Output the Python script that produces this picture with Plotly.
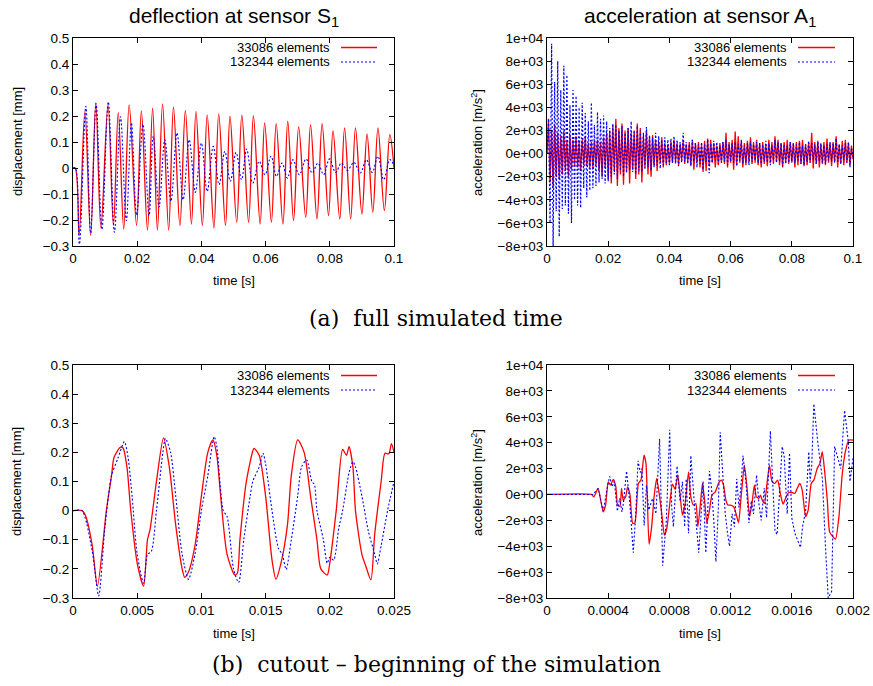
import plotly.graph_objects as go

W, H = 873, 686
def px(x): return x / W
def py(y): return 1 - y / H

# ---------------- data ----------------
series_names = ["33086 elements", "132344 elements"]

# (a) displacement at S1, full time [s], [mm]
disp_full_t_red = [0, 0.0007, 0.0019, 0.0037, 0.0055, 0.0071, 0.0087, 0.0109, 0.0126, 0.0141,
                   0.0158, 0.0175, 0.0198, 0.0213, 0.0232, 0.0248, 0.0263, 0.0279, 0.0298, 0.0313,
                   0.0333, 0.035, 0.0369, 0.0383, 0.0403, 0.0418, 0.0439, 0.0454, 0.0475, 0.0489,
                   0.051, 0.0526, 0.0547, 0.0562, 0.0583, 0.0597, 0.0618, 0.0633, 0.0654, 0.0669,
                   0.0687, 0.0703, 0.0725, 0.074, 0.076, 0.0776, 0.0796, 0.081, 0.0831, 0.0846,
                   0.0865, 0.088, 0.09, 0.0916, 0.0934, 0.095, 0.097, 0.0987, 0.1]
disp_full_y_red = [0, 0, -0.26, 0.218, -0.259, 0.25, -0.229, 0.243, -0.221, 0.214,
                   -0.235, 0.243, -0.221, 0.22, -0.238, 0.23, -0.239, 0.246, -0.239, 0.235,
                   -0.222, 0.222, -0.216, 0.218, -0.222, 0.204, -0.231, 0.208, -0.222, 0.199,
                   -0.209, 0.203, -0.209, 0.201, -0.216, 0.173, -0.209, 0.171, -0.216, 0.18,
                   -0.202, 0.158, -0.19, 0.167, -0.196, 0.171, -0.183, 0.144, -0.196, 0.154,
                   -0.196, 0.154, -0.177, 0.131, -0.17, 0.154, -0.164, 0.128, 0.0]

disp_full_t_blue = [0, 0.0007, 0.002, 0.004, 0.0055, 0.0072, 0.009, 0.011, 0.0129, 0.0148,
                    0.0166, 0.0182, 0.0198, 0.0218, 0.0237, 0.025, 0.0268, 0.0286, 0.0305, 0.0324,
                    0.0343, 0.0362, 0.0381, 0.04, 0.0418, 0.0437, 0.0455, 0.0473, 0.049, 0.0508,
                    0.0525, 0.0541, 0.056, 0.058, 0.0598, 0.0617, 0.0634, 0.0651, 0.0668, 0.0685,
                    0.0705, 0.0726, 0.0745, 0.0763, 0.0781, 0.0799, 0.0818, 0.0836, 0.0855, 0.0875,
                    0.0895, 0.0914, 0.0932, 0.095, 0.0968, 0.0987, 0.1]
disp_full_y_blue = [0, 0, -0.293, 0.237, -0.25, 0.248, -0.236, 0.254, -0.247, 0.197,
                    -0.202, 0.174, -0.181, 0.168, -0.183, 0.122, -0.15, 0.109, -0.128, 0.135,
                    -0.122, 0.109, -0.094, 0.096, -0.09, 0.083, -0.064, 0.064, -0.051, 0.06,
                    -0.045, 0.073, -0.058, 0.026, -0.026, 0.045, -0.032, 0.019, -0.039, 0.032,
                    -0.026, 0.035, -0.019, 0.019, -0.026, 0.035, -0.017, 0.019, -0.009, 0.022,
                    -0.019, 0.032, -0.017, 0.045, -0.045, 0.032, 0.01]

# (a) acceleration at A1, full time, sampled every 0.5 ms, values in 100 m/s^2
acc_full_t = [i * 0.0005 for i in range(201)]
acc_full_red_h = [
    0, 30, -25, 20, -30, 25, -20, 18, -22, 15, -18, 20, -15, 12, -20, 16, -14, 12, -10, 15,
    -12, 10, -15, 12, -10, 14, -11, 9, -12, 10, -13, 11, -10, 12, -15, 10, -20, 14, -12, 18,
    -22, 20, -26, 25, -15, 30, -28, 22, -18, 26, -27, 20, -15, 22, -26, 18, -14, 20, -22, 26,
    -18, 22, -25, 15, -12, 20, -18, 14, -20, 16, -10, 12, -15, 10, -8, 14, -12, 9, -10, 8,
    -9, 10, -8, 12, -7, 9, -10, 8, -6, 11, -9, 8, -7, 10, -11, 12, -14, 9, -8, 10,
    -12, 8, -16, 11, -15, 13, -10, 12, -8, 9, -12, 7, -10, 9, -8, 10, -9, 18, -12, 10,
    -8, 12, -14, 19, -10, 15, -8, 10, -12, 9, -10, 11, -7, 14, -9, 10, -8, 12, -10, 9,
    -12, 10, -9, 8, -11, 12, -8, 10, -9, 15, -7, 12, -10, 9, -12, 10, -8, 12, -9, 10,
    -8, 9, -12, 10, -10, 11, -9, 12, -11, 8, -10, 9, -8, 18, -13, 10, -9, 11, -12, 8,
    -9, 10, -10, 13, -8, 9, -11, 10, -7, 15, -12, 8, -9, 11, -10, 12, -8, 9, -10, 7,
    -5]
acc_full_blue_h = [
    0, 30, -60, 95, -80, 62, -50, 80, -72, 55, -48, 76, -45, 68, -52, 42, -60, 55, -40, 50,
    -45, 40, -47, 44, -30, 35, -38, 28, -32, 44, -30, 25, -28, 36, -25, 30, -22, 33, -26, 28,
    -24, 22, -20, 26, -18, 25, -22, 20, -15, 24, -20, 18, -17, 22, -14, 28, -16, 20, -18, 24,
    -15, 20, -16, 18, -14, 23, -12, 16, -15, 14, -12, 18, -10, 15, -13, 12, -10, 14, -9, 12,
    -10, 13, -8, 15, -9, 12, -11, 10, -8, 18, -7, 10, -9, 8, -10, 12, -7, 9, -12, 8,
    -9, 10, -14, 8, -7, 12, -17, 9, -8, 11, -6, 10, -9, 7, -8, 10, -7, 12, -10, 8,
    -7, 9, -8, 10, -11, 8, -6, 12, -9, 7, -8, 9, -10, 11, -7, 8, -6, 10, -8, 9,
    -9, 8, -7, 11, -8, 9, -10, 7, -6, 12, -8, 10, -7, 9, -11, 8, -9, 7, -8, 10,
    -7, 9, -8, 8, -6, 10, -9, 7, -10, 8, -7, 11, -8, 9, -6, 8, -9, 10, -7, 9,
    -8, 7, -9, 8, -6, 10, -7, 9, -8, 13, -7, 8, -9, 7, -6, 9, -8, 10, -12, 5,
    -3]

# (b) displacement, cutout 0..0.025 s
disp_cut_t_red = [0, 0.0007, 0.001, 0.0015, 0.0019, 0.0026, 0.003, 0.0032, 0.0037, 0.0039,
                  0.0042, 0.0045, 0.005, 0.0055, 0.0058, 0.006, 0.0065, 0.00705, 0.0075, 0.008,
                  0.0085, 0.0087, 0.009, 0.0095, 0.01, 0.0105, 0.0109, 0.0112, 0.0115, 0.012,
                  0.0126, 0.0128, 0.013, 0.0135, 0.014, 0.0141, 0.0145, 0.015, 0.0155, 0.0158,
                  0.0162, 0.0167, 0.017, 0.0175, 0.018, 0.0185, 0.019, 0.0193, 0.0198, 0.02,
                  0.0205, 0.021, 0.0213, 0.0215, 0.0218, 0.022, 0.0225, 0.0228, 0.0232, 0.0235,
                  0.024, 0.0243, 0.0246, 0.0248, 0.025]
disp_cut_y_red = [0, 0, -0.02, -0.12, -0.26, 0.0, 0.12, 0.183, 0.218, 0.215,
                  0.15, 0.0, -0.18, -0.259, -0.1, -0.065, 0.1, 0.25, 0.15, -0.05,
                  -0.2, -0.229, -0.21, -0.12, 0.05, 0.2, 0.243, 0.19, 0.05, -0.15,
                  -0.221, -0.215, -0.1, 0.1, 0.205, 0.214, 0.19, 0.05, -0.17, -0.235,
                  -0.18, -0.05, 0.12, 0.243, 0.2, 0.05, -0.1, -0.2, -0.221, -0.18,
                  0.0, 0.21, 0.19, 0.22, 0.15, 0.0, -0.15, -0.19, -0.238, -0.08,
                  0.1, 0.197, 0.195, 0.23, 0.2]
disp_cut_t_blue = [0, 0.0007, 0.0015, 0.002, 0.0025, 0.003, 0.0035, 0.004, 0.0043, 0.0046,
                   0.005, 0.0055, 0.0058, 0.0061, 0.0065, 0.007, 0.0072, 0.0076, 0.008, 0.0085,
                   0.009, 0.0095, 0.01, 0.0105, 0.011, 0.0112, 0.0117, 0.012, 0.0125, 0.0129,
                   0.0133, 0.0138, 0.014, 0.0145, 0.0148, 0.015, 0.0155, 0.016, 0.0163, 0.0166,
                   0.017, 0.0175, 0.0178, 0.0182, 0.0186, 0.0188, 0.019, 0.0195, 0.0198, 0.02,
                   0.0203, 0.0207, 0.021, 0.0215, 0.0218, 0.022, 0.0225, 0.023, 0.0235, 0.0237,
                   0.024, 0.0245, 0.025]
disp_cut_y_blue = [0, 0, -0.14, -0.293, -0.05, 0.12, 0.18, 0.237, 0.18, 0.05,
                   -0.15, -0.25, -0.15, -0.14, 0.0, 0.2, 0.248, 0.2, 0.05, -0.15,
                   -0.236, -0.15, 0.0, 0.12, 0.254, 0.22, 0.0, -0.02, -0.2, -0.247,
                   -0.1, 0.05, 0.1, 0.15, 0.197, 0.16, 0.0, -0.13, -0.15, -0.202,
                   -0.1, 0.05, 0.15, 0.174, 0.1, 0.09, 0.0, -0.1, -0.181, -0.16,
                   -0.17, -0.06, 0.0, 0.13, 0.168, 0.15, 0.05, -0.07, -0.15, -0.183,
                   -0.12, 0.0, 0.1]

# (b) acceleration, cutout 0..0.002 s [m/s^2]
acc_cut_t_red = [0, 0.000291, 0.000306, 0.000334, 0.000367, 0.000383, 0.0004, 0.000415, 0.000433, 0.00045,
                 0.000461, 0.000477, 0.000487, 0.000498, 0.000514, 0.000527, 0.000542, 0.00056, 0.000575, 0.000597,
                 0.000614, 0.000634, 0.000647, 0.000667, 0.000684, 0.0007, 0.000717, 0.000734, 0.00075, 0.000767,
                 0.000783, 0.0008, 0.00082, 0.000837, 0.000855, 0.00087, 0.000885, 0.000903, 0.000925, 0.00094,
                 0.000957, 0.000973, 0.000986, 0.001001, 0.001016, 0.00103, 0.001045, 0.001062, 0.001078, 0.0011,
                 0.001121, 0.001139, 0.001154, 0.001169, 0.001182, 0.001198, 0.00122, 0.001235, 0.001252, 0.00127,
                 0.00129, 0.001307, 0.001324, 0.00134, 0.001355, 0.001368, 0.001384, 0.001395, 0.001405, 0.001421,
                 0.001438, 0.001454, 0.001471, 0.001489, 0.001508, 0.001526, 0.001543, 0.001563, 0.00158, 0.001602,
                 0.00162, 0.001635, 0.001652, 0.001668, 0.00169, 0.001707, 0.001727, 0.001744, 0.001766, 0.001784,
                 0.001799, 0.001814, 0.001832, 0.001847, 0.001869, 0.001886, 0.001908, 0.00193, 0.001952, 0.001974,
                 0.002]
acc_cut_y_red = [0, 0, -180, 460, -1340, -820, 980, 720, 1160, 590,
                 -820, -900, 460, -440, -180, 590, 0, -2240, -2190, 850,
                 1110, 3040, 2400, -3840, -2500, -180, 1240, 0, -1470, -3140,
                 -2630, -950, 800, 390, 1500, -50, -1600, -700, 1750, -180,
                 -820, -700, -2500, -950, 850, -440, -2240, -1210, -50, 200,
                 850, 1110, 720, -440, -820, -820, -950, -1470, -2190, 0,
                 2270, 590, -1680, -700, 720, -180, -310, -50, -390, -700,
                 850, 2270, 980, 850, 1110, 0, -750, -180, 150, 150,
                 80, 460, 850, 330, -1730, -1210, 850, 1110, 2010, 2400,
                 3300, 1880, -440, -2890, -3270, -3460, -1730, 1620, 3430, 4200,
                 4200]
acc_cut_t_blue = [0, 0.0003, 0.000335, 0.000367, 0.0004, 0.00041, 0.000425, 0.00044, 0.00046, 0.000475,
                  0.00049, 0.0005, 0.00052, 0.00054, 0.000564, 0.00058, 0.000595, 0.00061, 0.00062, 0.000635,
                  0.00065, 0.000665, 0.00069, 0.000712, 0.000736, 0.000756, 0.00078, 0.000802, 0.000815, 0.000826,
                  0.00085, 0.00087, 0.000885, 0.0009, 0.00091, 0.000925, 0.00094, 0.00096, 0.000992, 0.001005,
                  0.00102, 0.001038, 0.00105, 0.001062, 0.001075, 0.00109, 0.001104, 0.00112, 0.001132, 0.00115,
                  0.001165, 0.00118, 0.001193, 0.00121, 0.001225, 0.00124, 0.001255, 0.00127, 0.001281, 0.0013,
                  0.00132, 0.001335, 0.00135, 0.00137, 0.001385, 0.0014, 0.00142, 0.001435, 0.00145, 0.00146,
                  0.001475, 0.00149, 0.001504, 0.00152, 0.001537, 0.00155, 0.00157, 0.001585, 0.0016, 0.00162,
                  0.001657, 0.00167, 0.00169, 0.001711, 0.00172, 0.00173, 0.001744, 0.00177, 0.00179, 0.0018,
                  0.00182, 0.001838, 0.00186, 0.001868, 0.00188, 0.00192, 0.001945, 0.00197, 0.00198, 0.002]
acc_cut_y_blue = [0, 0, 460, -1300, 900, 1400, 600, 1000, -1300, -300,
                  -1350, -600, 1800, -500, -4500, -1500, 2600, 1700, 2000, -2400,
                  700, -1200, -300, -1500, 4300, -5500, -2000, 5000, -1000, -2500,
                  2200, -500, 1000, -2500, 1200, -3000, 3000, -200, -4500, -2000,
                  1000, -4500, -1000, 1800, 500, -2000, -5200, -1000, 4800, 1000,
                  -1500, -3000, -4000, -1500, -2500, 1200, -1000, 1000, 3000, 1000,
                  -2200, -500, -1500, 1500, -700, -2000, 500, -1800, 2000, 4900,
                  1000, -2800, -3100, 500, 3700, 3000, -1500, 3200, -1800, -3000,
                  -4100, -2500, -1300, 3300, 1000, 2200, 7000, 4000, 2300, 1200,
                  -4000, -8000, -7500, -3500, 3700, 2000, 6500, 4000, 1000, 2800]

disp_ticks = [-0.3, -0.2, -0.1, 0, 0.1, 0.2, 0.3, 0.4, 0.5]
disp_ticktext = ["\u22120.3", "\u22120.2", "\u22120.1", "0", "0.1", "0.2", "0.3", "0.4", "0.5"]
acc_ticks = [-8000, -6000, -4000, -2000, 0, 2000, 4000, 6000, 8000, 10000]
acc_ticktext = ["\u22128e+03", "\u22126e+03", "\u22124e+03", "\u22122e+03", "0e+00",
                "2e+03", "4e+03", "6e+03", "8e+03", "1e+04"]
full_ticks = [0, 0.02, 0.04, 0.06, 0.08, 0.1]
full_ticktext = ["0", "0.02", "0.04", "0.06", "0.08", "0.1"]
dcut_ticks = [0, 0.005, 0.01, 0.015, 0.02, 0.025]
dcut_ticktext = ["0", "0.005", "0.01", "0.015", "0.02", "0.025"]
acut_ticks = [0, 0.0004, 0.0008, 0.0012, 0.0016, 0.002]
acut_ticktext = ["0", "0.0004", "0.0008", "0.0012", "0.0016", "0.002"]

# ---------------- figure ----------------
RED = "#ff0000"
BLUE = "#0000ff"
SANS = "Liberation Sans, Arial, Helvetica, sans-serif"
SERIF = "DejaVu Serif, Liberation Serif, serif"
DOT = "2px,2px"

fig = go.Figure()

def add(x, y, ax, color, dash, width, shape="linear", smoothing=None):
    line = dict(color=color, width=width, dash=dash, shape=shape)
    if smoothing is not None:
        line["smoothing"] = smoothing
    fig.add_trace(go.Scatter(x=x, y=y, mode="lines", line=line,
                             xaxis="x" + ax, yaxis="y" + ax, showlegend=False,
                             hoverinfo="skip"))

add(disp_full_t_red, disp_full_y_red, "", RED, "solid", 1.3, "spline", 1.0)
add(disp_full_t_blue, disp_full_y_blue, "", BLUE, DOT, 1.1, "spline", 1.0)

add(acc_full_t, [v * 100 for v in acc_full_red_h], "2", RED, "solid", 1.3)
add(acc_full_t, [v * 100 for v in acc_full_blue_h], "2", BLUE, DOT, 1.2)

add(disp_cut_t_red, disp_cut_y_red, "3", RED, "solid", 1.3, "spline", 0.7)
add(disp_cut_t_blue, disp_cut_y_blue, "3", BLUE, DOT, 1.1, "spline", 0.7)

add(acc_cut_t_red, acc_cut_y_red, "4", RED, "solid", 1.3, "spline", 0.5)
add(acc_cut_t_blue, acc_cut_y_blue, "4", BLUE, DOT, 1.1)

common = dict(showline=True, linecolor="black", linewidth=1, mirror="ticks",
              ticks="inside", ticklen=5, tickcolor="black", tickwidth=1,
              showgrid=False, zeroline=False,
              tickfont=dict(family=SANS, size=13.5, color="black"))

LEFT_X = [px(73), px(394)]
RIGHT_X = [px(547), px(853)]
TOP_Y = [py(246), py(38)]
BOT_Y = [py(598), py(365)]

fig.update_layout(
    width=W, height=H, margin=dict(l=0, r=0, t=0, b=0, autoexpand=False),
    paper_bgcolor="white", plot_bgcolor="white",
    xaxis=dict(domain=LEFT_X, anchor="y", range=[0, 0.1], tickvals=full_ticks, ticktext=full_ticktext, **common),
    yaxis=dict(domain=TOP_Y, anchor="x", range=[-0.3, 0.5], tickvals=disp_ticks, ticktext=disp_ticktext, **common),
    xaxis2=dict(domain=RIGHT_X, anchor="y2", range=[0, 0.1], tickvals=full_ticks, ticktext=full_ticktext, **common),
    yaxis2=dict(domain=TOP_Y, anchor="x2", range=[-8000, 10000], tickvals=acc_ticks, ticktext=acc_ticktext, **common),
    xaxis3=dict(domain=LEFT_X, anchor="y3", range=[0, 0.025], tickvals=dcut_ticks, ticktext=dcut_ticktext, **common),
    yaxis3=dict(domain=BOT_Y, anchor="x3", range=[-0.3, 0.5], tickvals=disp_ticks, ticktext=disp_ticktext, **common),
    xaxis4=dict(domain=RIGHT_X, anchor="y4", range=[0, 0.002], tickvals=acut_ticks, ticktext=acut_ticktext, **common),
    yaxis4=dict(domain=BOT_Y, anchor="x4", range=[-8000, 10000], tickvals=acc_ticks, ticktext=acc_ticktext, **common),
)

ann = []
def text(x, y, s, size, family=SANS, angle=0, xanchor="center"):
    ann.append(dict(x=px(x), y=py(y), xref="paper", yref="paper", text=s, showarrow=False,
                    xanchor=xanchor, yanchor="middle", textangle=angle,
                    font=dict(family=family, size=size, color="black")))

# panel titles
text(233.5, 17, "deflection at sensor S<sub>1</sub>", 21)
text(700, 17, "acceleration at sensor A<sub>1</sub>", 21)
# axis titles
for yb in (280, 633):
    text(233.5, yb, "time [s]", 13)
    text(700, yb, "time [s]", 13)
for yc in (142, 482):
    text(17, yc, "displacement [mm]", 13, angle=-90)
    text(477, yc, "acceleration [m/s<sup>2</sup>]", 13, angle=-90)
# captions
text(436, 318, "(a)  full simulated time", 22, family=SERIF)
text(436, 664, "(b)  cutout \u2013 beginning of the simulation", 22, family=SERIF)

# legends (gnuplot style: text right-aligned, sample to the right)
shapes = []
legend_spots = [(332, 341, 377, 47.5, 62), (789, 798, 835, 47.5, 62),
                (332, 341, 377, 375.5, 390), (789, 798, 835, 375.5, 390)]
for tx, l0, l1, r0, r1 in legend_spots:
    text(tx, r0, series_names[0], 13, xanchor="right")
    text(tx, r1, series_names[1], 13, xanchor="right")
    shapes.append(dict(type="line", xref="paper", yref="paper", x0=px(l0), x1=px(l1),
                       y0=py(r0), y1=py(r0), line=dict(color=RED, width=1.3)))
    shapes.append(dict(type="line", xref="paper", yref="paper", x0=px(l0), x1=px(l1),
                       y0=py(r1), y1=py(r1), line=dict(color=BLUE, width=1.1, dash=DOT)))

fig.update_layout(annotations=ann, shapes=shapes)
fig.write_html("out.html", config={"displayModeBar": False},
               post_script="document.body.style.margin='0';document.body.style.overflow='hidden';")
